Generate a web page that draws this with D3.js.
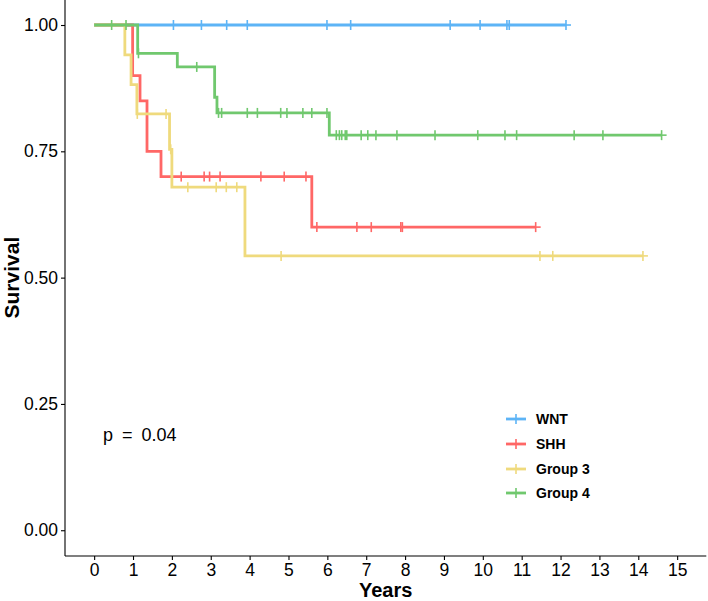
<!DOCTYPE html>
<html>
<head>
<meta charset="utf-8">
<script src="https://cdn.jsdelivr.net/npm/d3@7"></script>
<style>
  html, body { margin: 0; padding: 0; background: #fff; }
  svg { display: block; }
  text { font-family: "Liberation Sans", Arial, Helvetica, sans-serif; }
</style>
</head>
<body>
<svg id="chart" width="708" height="601"></svg>
<script>
// ---- Data ----
const groups = ["WNT", "SHH", "Group 3", "Group 4"];
const colors = ["#5DB4F6", "#FF6766", "#EFDA7D", "#70C86E"];

// event (drop) times and survival after each drop
const wntStepTimes = [];
const wntStepSurv = [];
const wntCensor = [2.04, 2.76, 3.41, 3.94, 5.99, 6.60, 9.16, 9.93, 10.62, 10.68, 12.14];

const shhStepTimes = [0.99, 1.18, 1.36, 1.72, 5.60];
const shhStepSurv = [0.90, 0.85, 0.75, 0.70, 0.60];
const shhCensor = [2.24, 2.83, 2.97, 3.24, 4.29, 4.89, 5.45, 5.73, 6.76, 7.13, 7.89, 7.93, 11.36];

const g3StepTimes = [0.79, 0.95, 1.10, 1.94, 2.00, 3.88];
const g3StepSurv = [0.941, 0.882, 0.824, 0.754, 0.679, 0.543];
const g3Censor = [1.11, 1.85, 1.97, 2.41, 3.14, 3.40, 3.67, 4.81, 11.47, 11.80, 14.12];

const g4StepTimes = [1.12, 2.14, 3.10, 3.16, 6.05];
const g4StepSurv = [0.944, 0.917, 0.857, 0.826, 0.782];
const g4Censor = [0.45, 0.82, 1.14, 2.64, 3.20, 3.28, 3.94, 4.20, 4.80, 4.96, 5.37, 5.60, 5.99,
                  6.23, 6.31, 6.37, 6.46, 6.50, 6.87, 7.04, 7.25, 7.79, 8.77, 9.87, 10.57, 10.87,
                  12.35, 13.09, 14.60];

const xTicks = [0, 1, 2, 3, 4, 5, 6, 7, 8, 9, 10, 11, 12, 13, 14, 15];
const yTicks = [0, 0.25, 0.5, 0.75, 1];
const pLabel = "p = 0.04";
const xTitle = "Years";
const yTitle = "Survival";

const series = [
  { steps: wntStepTimes, surv: wntStepSurv, censor: wntCensor },
  { steps: shhStepTimes, surv: shhStepSurv, censor: shhCensor },
  { steps: g3StepTimes, surv: g3StepSurv, censor: g3Censor },
  { steps: g4StepTimes, surv: g4StepSurv, censor: g4Censor }
];

// ---- Layout ----
const svg = d3.select("#chart");
const pLeft = 65, pRight = 706.3, pTop = -0.25, pBottom = 555.5;
const x = d3.scaleLinear().domain([-0.75, 15.75]).range([pLeft, pRight]);
const y = d3.scaleLinear().domain([-0.05, 1.05]).range([pBottom, pTop]);

function survAt(s, t) {
  let v = 1;
  for (let i = 0; i < s.steps.length; i++) if (s.steps[i] <= t) v = s.surv[i];
  return v;
}

const line = d3.line().curve(d3.curveStepAfter).x(d => x(d[0])).y(d => y(d[1]));

series.forEach((s, gi) => {
  const end = Math.max(d3.max(s.censor), d3.max(s.steps.length ? s.steps : [0]));
  const pts = [[0, 1]];
  s.steps.forEach((t, i) => pts.push([t, s.surv[i]]));
  pts.push([end, survAt(s, end)]);
  const g = svg.append("g");
  g.append("path").attr("d", line(pts)).attr("fill", "none")
    .attr("stroke", colors[gi]).attr("stroke-width", 2.8);
  g.selectAll("line.c").data(s.censor).enter().append("line")
    .attr("x1", d => x(d)).attr("x2", d => x(d))
    .attr("y1", d => y(survAt(s, d)) - 5).attr("y2", d => y(survAt(s, d)) + 5)
    .attr("stroke", colors[gi]).attr("stroke-width", 1.6);
  // short horizontal bar of the "+" at the end mark
  g.append("line").attr("x1", x(end)).attr("x2", x(end) + 5)
    .attr("y1", y(survAt(s, end))).attr("y2", y(survAt(s, end)))
    .attr("stroke", colors[gi]).attr("stroke-width", 1.6);
});

// ---- Axes ----
const tickFont = 17.5;
const xAxis = d3.axisBottom(x).tickValues(xTicks).tickSize(4).tickPadding(4).tickFormat(d3.format("d"));
const gx = svg.append("g").attr("transform", `translate(0,${pBottom + 0.5})`).call(xAxis);
gx.select(".domain").attr("d", `M${pLeft},0H${pRight}`).attr("stroke", "#000").attr("stroke-width", 1.1);
gx.selectAll(".tick line").attr("stroke", "#000").attr("stroke-width", 1.1);
gx.selectAll(".tick text").attr("font-size", tickFont).attr("fill", "#000")
  .style("font-family", "'Liberation Sans', Arial, sans-serif");

const yAxis = d3.axisLeft(y).tickValues(yTicks).tickSize(4).tickPadding(3).tickFormat(d3.format(".2f"));
const gy = svg.append("g").attr("transform", `translate(${pLeft},0)`).call(yAxis);
gy.select(".domain").attr("d", `M0,${pTop}V${pBottom + 0.5}`).attr("stroke", "#000").attr("stroke-width", 1.1);
gy.selectAll(".tick line").attr("stroke", "#000").attr("stroke-width", 1.1);
gy.selectAll(".tick text").attr("font-size", tickFont).attr("fill", "#000")
  .style("font-family", "'Liberation Sans', Arial, sans-serif");

svg.append("text").attr("x", (pLeft + pRight) / 2).attr("y", 597)
  .attr("text-anchor", "middle").attr("font-size", 20).attr("font-weight", "bold").text(xTitle);
svg.append("text").attr("transform", `translate(19,${y(0.5)}) rotate(-90)`)
  .attr("text-anchor", "middle").attr("font-size", 21).attr("font-weight", "bold").text(yTitle);

// p value
svg.append("text").attr("x", 103).attr("y", 441).attr("font-size", 18)
  .style("word-spacing", "4px").text(pLabel);

// ---- Legend ----
const legendY = [419, 444, 469, 493];
groups.forEach((name, i) => {
  const lg = svg.append("g").attr("transform", `translate(506,${legendY[i]})`);
  lg.append("line").attr("x1", 0).attr("x2", 20).attr("y1", 0).attr("y2", 0)
    .attr("stroke", colors[i]).attr("stroke-width", 2.8);
  lg.append("line").attr("x1", 10).attr("x2", 10).attr("y1", -5).attr("y2", 5)
    .attr("stroke", colors[i]).attr("stroke-width", 1.6);
  lg.append("text").attr("x", 30).attr("y", 5).attr("font-size", 14).attr("font-weight", "bold")
    .text(name);
});
</script>
</body>
</html>
